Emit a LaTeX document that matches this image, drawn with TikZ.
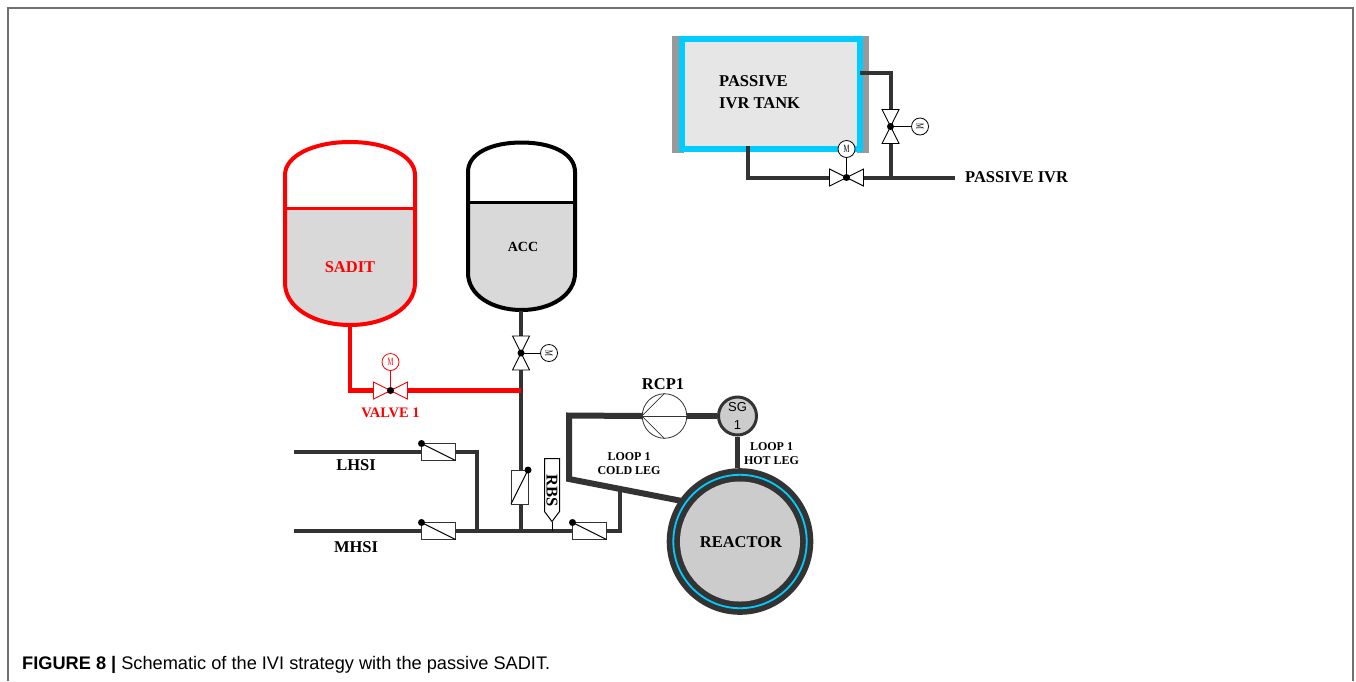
\documentclass[tikz,border=0pt]{standalone}
\usepackage{fontspec}
\setmainfont{Liberation Serif}
\setsansfont{Liberation Sans}
\definecolor{pipegray}{HTML}{333333}
\definecolor{fillgray}{HTML}{D9D9D9}
\definecolor{coregray}{HTML}{CCCCCC}
\definecolor{tankgray}{HTML}{E6E6E6}
\definecolor{sidegray}{HTML}{999999}
\definecolor{loopcyan}{HTML}{00CCFF}
\definecolor{framegray}{HTML}{707070}
\newcommand{\fnt}[1]{\fontsize{#1}{#1}\selectfont}
\begin{document}
\begin{tikzpicture}[x=1pt, y=-1pt]
\tikzset{pipe/.style={draw=pipegray, line width=4pt},
  thickpipe/.style={draw=pipegray, line width=6pt},
  redpipe/.style={draw=red, line width=4.5pt},
  stem/.style={line width=1pt},
  lab/.style={font=\fnt{16.5}\bfseries, inner sep=0pt, align=center},
  smalllab/.style={font=\fnt{12}\bfseries, inner sep=0pt, align=center},
  motor/.style={draw, circle, fill=white, minimum size=17pt, inner sep=0pt, line width=0.8pt, font=\fnt{11}},
  flapbox/.style={draw=black!80, fill=white, rectangle, inner sep=0pt, outer sep=0pt, line width=1pt, minimum width=34pt, minimum height=17pt},
  bowtie/.pic={\draw[line width=0.9pt, fill=white] (-17,-8.5) -- (17,8.5) -- (17,-8.5) -- (-17,8.5) -- cycle;
    \fill[black] (0,0) circle (3.5);}}
\useasboundingbox (0,0) rectangle (1356,681);
\draw[framegray, line width=1.5pt] (8,681) -- (8,8) -- (1353,8) -- (1353,681);

\fill[sidegray] (672,36) rectangle (684,153);
\fill[sidegray] (857,36) rectangle (869,153);
\node[draw=loopcyan, fill=tankgray, line width=6pt, inner sep=0pt, minimum width=178pt, minimum height=110pt] (TK) at (771,93.5) {};
\node[lab, anchor=west, align=left] (TKL) at (719,92) {PASSIVE\\[5pt]IVR TANK};
\coordinate (TK1) at (860,73);
\coordinate (TK2) at (890.5,73);
\coordinate (TK3) at (748,146);
\coordinate (TK4) at (748,177.5);
\coordinate (VT) at (890.5,126.5);
\coordinate (VB) at (846.5,177.5);
\coordinate (J1) at (890.5,177.5);
\coordinate (IVR) at (955,177.5);
\node[motor, rotate=-90] (MT) at (920,126.5) {\scalebox{.6}[1]{M}};
\node[motor] (MB) at (846.5,149) {\scalebox{.6}[1]{M}};
\draw[pipe] (TK1) -- (TK2) -- (J1);
\draw[pipe] (TK3) -- (TK4) -- (IVR);
\draw[stem] (VT) -- (MT);
\draw[stem] (VB) -- (MB);
\pic[rotate=90] at (VT) {bowtie};
\pic at (VB) {bowtie};
\node[lab, anchor=west] (IVRL) at (965,177) {PASSIVE IVR};

\fill[fillgray] (285,208) -- (285,283) .. controls (285,308) and (315,325) .. (350,325) .. controls (385,325) and (415,308) .. (415,283) -- (415,208) -- cycle;
\draw[red, line width=4pt] (285,283) -- (285,175) .. controls (285,156) and (313,142) .. (350,142) .. controls (387,142) and (415,156) .. (415,175) -- (415,283) .. controls (415,308) and (385,325) .. (350,325) .. controls (315,325) and (285,308) .. (285,283) -- cycle;
\draw[red, line width=3pt] (285,208) -- (415,208);
\node[lab, red] (SADIT) at (350,267) {SADIT};

\fill[fillgray] (468,202) -- (468,273) .. controls (468,295) and (492,310) .. (521.5,310) .. controls (551,310) and (575,295) .. (575,273) -- (575,202) -- cycle;
\draw[black, line width=4pt] (468,273) -- (468,172) .. controls (468,153) and (492,142.5) .. (521.5,142.5) .. controls (551,142.5) and (575,153) .. (575,172) -- (575,273) .. controls (575,295) and (551,310) .. (521.5,310) .. controls (492,310) and (468,295) .. (468,273) -- cycle;
\draw[black, line width=3pt] (468,202) -- (575,202);
\node[lab, font=\fnt{14}\bfseries] (ACC) at (523,247) {ACC};

\coordinate (A0) at (521,311);
\coordinate (VA) at (521,353);
\coordinate (J2) at (521,390.5);
\coordinate (J3) at (521,531);
\coordinate (S0) at (350,326);
\coordinate (S1) at (350,390.5);
\coordinate (VR) at (390.5,390.5);
\coordinate (L0) at (294,452);
\coordinate (L1) at (477,452);
\coordinate (J4) at (477,531);
\coordinate (H0) at (294,531);
\coordinate (H1) at (619.5,531);
\coordinate (H2) at (619.5,490);
\coordinate (C1) at (569,415.5);
\coordinate (C2) at (569,479);
\coordinate (C3) at (682,501);

\node[motor, rotate=-90] (MA) at (549,353) {\scalebox{.6}[1]{M}};
\node[motor, draw=red, text=red] (MR) at (390.5,362) {\scalebox{.6}[1]{M}};
\draw[pipe] (A0) -- (J3);
\draw[stem] (VA) -- (MA);
\draw[redpipe] (S0) -- (S1) -- (J2);
\draw[stem, red] (VR) -- (MR);
\pic[rotate=90] at (VA) {bowtie};
\pic[red] at (VR) {bowtie};
\node[smalllab, font=\fnt{14.5}\bfseries, red] (VL) at (390.5,413) {VALVE 1};

\draw[pipe] (L0) -- (L1) -- (J4);
\draw[pipe] (H0) -- (H1) -- (H2);
\node[flapbox] (B1) at (438.5,452) {};
\node[flapbox] (B2) at (438.5,531) {};
\node[flapbox] (B4) at (589.5,531) {};
\node[flapbox, minimum width=17pt, minimum height=34pt] (B3) at (519.5,487) {};
\draw[stem] (B1.north west) -- (B1.south east);
\draw[stem] (B2.north west) -- (B2.south east);
\draw[stem] (B4.north west) -- (B4.south east);
\draw[stem] (B3.north east) -- (B3.south west);
\fill (B1.north west) circle (3.5);
\fill (B2.north west) circle (3.5);
\fill (B4.north west) circle (3.5);
\fill (B3.north east) circle (3.5);
\node[lab] (LHSI) at (356,465) {LHSI};
\node[lab] (MHSI) at (356,547) {MHSI};

\coordinate (R0) at (552,531);
\coordinate (R1) at (552,521.5);
\draw[stem] (R0) -- (R1);
\draw[stem, fill=white] (544.5,458.5) -- (559.5,458.5) -- (559.5,511.5) -- (R1) -- (544.5,511.5) -- cycle;
\node[lab, rotate=-90] (RBS) at (552,491) {RBS};

\node[draw=black!80, fill=white, circle, line width=0.8pt, minimum size=44.5pt, inner sep=0pt] (RCP) at (664.5,416) {};
\node[circle, fill=coregray, draw=pipegray, line width=3pt, minimum size=38pt, inner sep=0pt, font=\sffamily\fnt{13}, align=center] (SG) at (737.5,416) {SG\\[5pt]1};
\node[circle, fill=pipegray, minimum size=146.6pt, inner sep=0pt] (RO) at (740,541.5) {};
\draw[thickpipe] (RCP.west) -- (C1) -- (C2) -- (C3);
\draw[thickpipe] (RCP.east) -- (SG.west);
\draw[thickpipe, line width=5.5pt] (SG.south) -- (RO.north -| SG.south);
\draw[black!80, line width=0.8pt] (RCP.west) -- (RCP.north);
\draw[black!80, line width=0.8pt] (RCP.west) -- (RCP.south);
\draw[black!80, line width=0.8pt] (RCP.west) -- (RCP.east);
\node[lab] (RCPL) at (663,384) {RCP1};
\node[circle, draw=loopcyan, line width=1.8pt, minimum size=133.4pt, inner sep=0pt] (RC) at (RO) {};
\node[circle, fill=coregray, minimum size=120pt, inner sep=0pt] (RI) at (RO) {};
\node[lab] (REACTOR) at (741,542.5) {REACTOR};
\node[smalllab] (CL) at (629,464) {LOOP 1\\[2pt]COLD LEG};
\node[smalllab] (HL) at (771.5,454) {LOOP 1\\[2pt]HOT LEG};

\node[anchor=west, inner sep=0pt, font=\sffamily\fnt{18.2}] (CAP) at (22,664.5) {\textbf{FIGURE 8 |} Schematic of the IVI strategy with the passive SADIT.};
\end{tikzpicture}
\end{document}
